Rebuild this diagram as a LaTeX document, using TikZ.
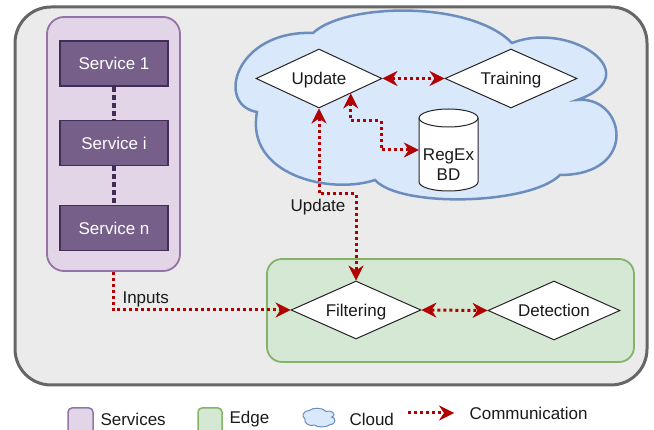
\documentclass[tikz,border=0pt]{standalone}
\usepackage{fontspec}
\setmainfont{Liberation Sans}
\usetikzlibrary{arrows.meta,shapes.geometric}
\definecolor{outerfill}{HTML}{EBEBEB}
\definecolor{outerline}{HTML}{666666}
\definecolor{svcfill}{HTML}{E1D5E7}
\definecolor{svcline}{HTML}{9673A6}
\definecolor{boxfill}{HTML}{76608A}
\definecolor{boxline}{HTML}{432D57}
\definecolor{edgefill}{HTML}{D5E8D4}
\definecolor{edgeline}{HTML}{82B366}
\definecolor{cloudfill}{HTML}{DAE8FC}
\definecolor{cloudline}{HTML}{6C8EBF}
\definecolor{comm}{HTML}{B20000}
\definecolor{txt}{HTML}{1A1A1A}
\tikzset{
  base/.style={font=\fontsize{17}{20.5}\selectfont, text=txt},
  svcbox/.style={base, draw=boxline, fill=boxfill, line width=1.2pt, text=white,
    minimum width=108pt, minimum height=45pt, inner sep=0pt, text depth=0pt},
  dia/.style={base, diamond, shape aspect=2.2, draw=black!85, fill=white, line width=1pt, inner sep=0pt, text depth=0pt},
  group/.style={line width=1.8pt, inner sep=0pt},
  ctip/.tip={Stealth[length=15pt,width=15pt,inset=5pt,line width=0.6pt]},
  commline/.style={draw=comm, fill=none, line width=3pt, dash pattern=on 3pt off 3pt},
  twoway/.style={commline, ctip-ctip},
  oneway/.style={commline, -ctip},
  svclink/.style={draw=boxline, line width=4.5pt, dash pattern=on 5pt off 3pt},
}
\newcommand{\cloudshape}{(313,33) .. controls (345,3) and (470,0) .. (512,43)
  .. controls (570,20) and (650,75) .. (577,100)
  .. controls (625,95) and (640,175) .. (560,175)
  .. controls (530,205) and (400,208) .. (375,180)
  .. controls (330,195) and (245,175) .. (257,112)
  .. controls (215,105) and (235,30) .. (313,33) -- cycle}
\begin{document}
\begin{tikzpicture}[x=1pt,y=-1pt]
\useasboundingbox (0,0) rectangle (654,430);
\clip (0,0) rectangle (654,430);
% outer frame
\draw[outerline, fill=outerfill, line width=3pt, rounded corners=36pt] (15,7) rectangle (647,385);
% services group
\node[group, draw=svcline, fill=svcfill, rounded corners=17pt, minimum width=133pt, minimum height=254pt] (svc) at (113.5,144) {};
\node[svcbox] (s1) at (114,63.5) {Service 1};
\node[svcbox] (si) at (114,143) {Service i};
\node[svcbox] (sn) at (114,228) {Service n};
\draw[svclink] (s1.south) -- (si.north);
\draw[svclink] (si.south) -- (sn.north);
% edge group
\node[group, draw=edgeline, fill=edgefill, rounded corners=15pt, minimum width=367pt, minimum height=103pt] (edge) at (450.5,310.5) {};
% cloud
\draw[draw=cloudline, fill=cloudfill, line width=2.5pt] \cloudshape;
% diamonds
\node[dia, minimum width=126pt, minimum height=59pt] (up) at (319,78.5) {Update};
\node[dia, minimum width=132pt, minimum height=59pt] (tr) at (511,78.5) {Training};
\node[dia, minimum width=130pt, minimum height=58pt] (fi) at (356,310) {Filtering};
\node[dia, minimum width=132pt, minimum height=59pt] (de) at (554,310.5) {Detection};
% database cylinder
\node[minimum width=59pt, minimum height=82pt, inner sep=0pt] (db) at (448.5,150) {};
\draw[black!85, line width=1pt, fill=white] (419,118) -- (419,182)
  arc[start angle=180, end angle=0, x radius=29.5, y radius=9] -- (478,118)
  arc[start angle=0, end angle=-180, x radius=29.5, y radius=9] -- cycle;
\draw[black!85, line width=1pt] (419,118) arc[start angle=180, end angle=0, x radius=29.5, y radius=9];
\node[base, align=center, inner sep=0pt] (dbtxt) at (448.5,164.5) {RegEx\\BD};
% connectors
\coordinate (k1) at (381,121);
\coordinate (k2) at (356,194);
\draw[twoway] (up.east) -- (tr.west);
\draw[twoway] (up.south east) |- (k1) |- (db.west);
\draw[twoway] (up.south) |- (k2) -- (fi.north);
\draw[oneway] (svc.south) |- (fi.west);
\draw[twoway] (fi.east) -- (de.west);
\node[base] (lblup) at (318,207) {Update};
\node[base, anchor=west] (lblin) at (119,299) {Inputs};
% legend
\node[group, line width=1.5pt, draw=svcline, fill=svcfill, rounded corners=4pt, minimum width=25pt, minimum height=30pt] (lg1) at (80.5,423) {};
\node[base, anchor=west] (lt1) at (97,419) {Services};
\node[group, line width=1.5pt, draw=edgeline, fill=edgefill, rounded corners=4pt, minimum width=24pt, minimum height=30pt] (lg2) at (210,423) {};
\node[base, anchor=west] (lt2) at (226,419) {Edge};
\begin{scope}[shift={(283.1,407.2)}, xscale=0.084, yscale=0.099]
  \draw[draw=cloudline, fill=cloudfill, line width=1pt] \cloudshape;
\end{scope}
\node[base, anchor=west] (lt3) at (346,419) {Cloud};
\coordinate (ca) at (408,413);
\coordinate (cb) at (454,413);
\draw[oneway] (ca) -- (cb);
\node[base, anchor=west] (lt4) at (466,413) {Communication};
\end{tikzpicture}
\end{document}
